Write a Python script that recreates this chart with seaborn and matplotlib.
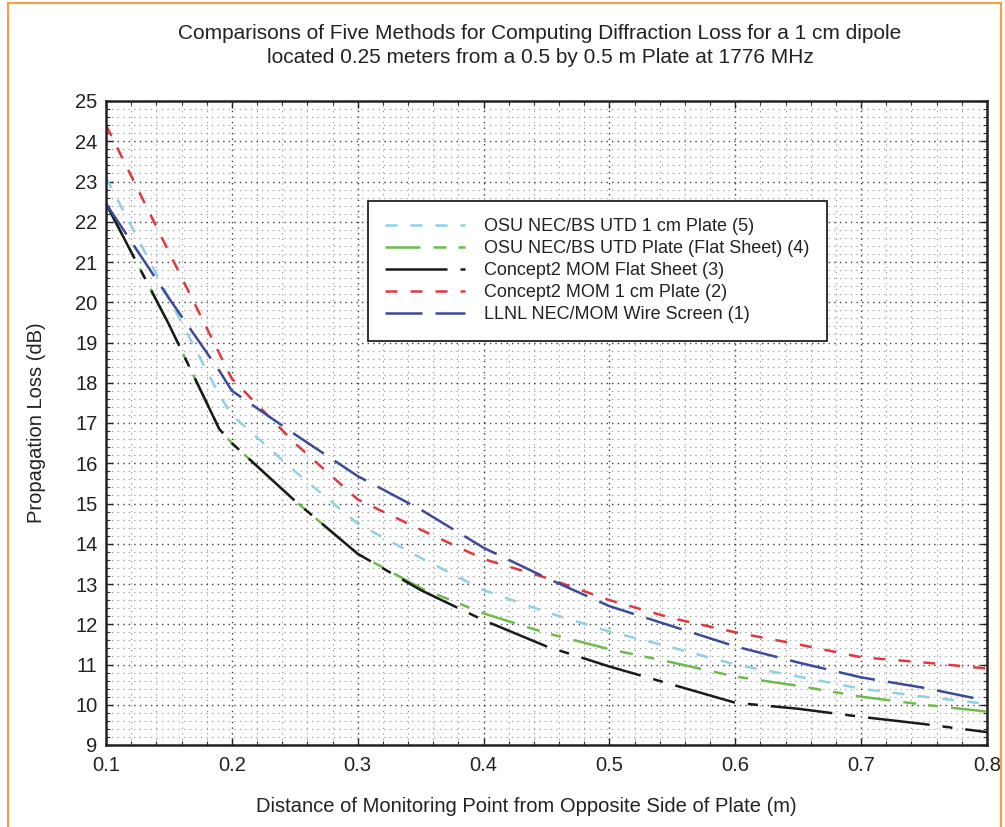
import numpy as np
import pandas as pd
import matplotlib
matplotlib.use("Agg")
import matplotlib.pyplot as plt
import seaborn as sns
from matplotlib.patches import Rectangle

# ---- data ----
x_m = [0.10, 0.15, 0.19, 0.20, 0.25, 0.30, 0.35, 0.40, 0.45, 0.50, 0.55, 0.60, 0.65, 0.70, 0.75, 0.80]
osu_1cm   = [23.1, 20.1, 17.7, 17.2, 15.8, 14.5, 13.65, 12.85, 12.3, 11.82, 11.42, 11.0, 10.7, 10.4, 10.2, 10.02]
osu_flat  = [22.45, 19.45, 16.85, 16.5, 15.07, 13.75, 12.9, 12.27, 11.78, 11.38, 11.05, 10.7, 10.47, 10.2, 10.0, 9.83]
c2_flat   = [22.45, 19.45, 16.85, 16.5, 15.07, 13.75, 12.85, 12.1, 11.45, 10.95, 10.5, 10.05, 9.9, 9.7, 9.52, 9.32]
c2_1cm    = [24.4, 21.25, 18.73, 18.1, 16.5, 15.1, 14.35, 13.62, 13.15, 12.6, 12.15, 11.8, 11.5, 11.18, 11.05, 10.9]
llnl_wire = [22.45, 20.1, 18.3, 17.8, 16.72, 15.68, 14.85, 13.9, 13.15, 12.45, 11.95, 11.45, 11.05, 10.68, 10.42, 10.1]

labels = ["OSU NEC/BS UTD 1 cm Plate (5)",
          "OSU NEC/BS UTD Plate (Flat Sheet) (4)",
          "Concept2 MOM Flat Sheet (3)",
          "Concept2 MOM 1 cm Plate (2)",
          "LLNL NEC/MOM Wire Screen (1)"]
series = [osu_1cm, osu_flat, c2_flat, c2_1cm, llnl_wire]
colors = ["#8fd0e6", "#6cbb4c", "#1a1a1a", "#e0383c", "#3c4a9c"]
dash_styles = [(4.8, 5.2), (14.0, 5.2, 5.2, 4.8, 4.0, 5.2), (24.8, 5.2, 4.0, 5.2),
               (4.8, 5.2), (14.8, 5.2)]

title = ("Comparisons of Five Methods for Computing Diffraction Loss for a 1 cm dipole\n"
         "located 0.25 meters from a 0.5 by 0.5 m Plate at 1776 MHz")
xlabel = "Distance of Monitoring Point from Opposite Side of Plate (m)"
ylabel = "Propagation Loss (dB)"

df = pd.DataFrame({
    "x": np.tile(x_m, len(labels)),
    "y": np.concatenate(series),
    "method": np.repeat(labels, len(x_m)),
})

sns.set_theme(style="white")
plt.rcParams['font.family'] = ['Liberation Sans', 'DejaVu Sans']

W, H = 1005, 827
fig = plt.figure(figsize=(W / 100, H / 100), dpi=100)
ax = fig.add_axes([106 / W, 1 - 745 / H, (987 - 106) / W, (745 - 101) / H])

sns.lineplot(data=df, x="x", y="y", hue="method", style="method",
             hue_order=labels, style_order=labels,
             palette=dict(zip(labels, colors)),
             dashes=dict(zip(labels, dash_styles)),
             linewidth=1.8, ax=ax, legend=True, sort=False)

ax.set_xlim(0.1, 0.8)
ax.set_ylim(9, 25)
ax.set_xticks(np.arange(0.1, 0.81, 0.1))
ax.set_xticklabels([f"{v:.1f}" for v in np.arange(0.1, 0.81, 0.1)])
ax.set_yticks(np.arange(9, 26, 1))
ax.set_xticks(np.arange(0.1, 0.8001, 0.02), minor=True)
ax.set_yticks(np.arange(9, 25.001, 0.2), minor=True)
ax.tick_params(axis="both", which="major", direction="in", length=5, width=1,
               labelsize=14.5, colors="#222222", top=True, right=True,
               bottom=True, left=True)
ax.tick_params(axis="x", which="major", pad=8)
ax.tick_params(axis="y", which="major", pad=6)
ax.tick_params(axis="both", which="minor", direction="in", length=3, width=0.8,
               top=True, right=True, bottom=True, left=True, colors="#333333")
ax.grid(True, which="major", color="#3a3a3a", linestyle=(0, (1, 3)), linewidth=1.0)
ax.grid(True, which="minor", color="#8a8a8a", linestyle=(0, (1, 4)), linewidth=0.8)
ax.set_axisbelow(True)
for s in ax.spines.values():
    s.set_color("#222222")
    s.set_linewidth(1.8)

ax.set_xlabel("")
ax.set_ylabel("")
fig.text(526 / W, 1 - 807 / H, xlabel, ha="center", va="center", fontsize=14.5, color="#222222")
fig.text(36 / W, 1 - 423 / H, ylabel, ha="center", va="center", rotation=90,
         fontsize=14.5, color="#222222")
fig.text(540 / W, 1 - 45.5 / H, title, ha="center", va="center", fontsize=15,
         color="#222222", linespacing=1.38)

handles, lbls = ax.get_legend_handles_labels()
leg = ax.legend(handles, lbls, loc="upper left",
                bbox_to_anchor=((368 - 106) / (987 - 106), (745 - 201) / (745 - 101)),
                frameon=True, fancybox=False, edgecolor="#222222", fontsize=13,
                handlelength=4.4, labelspacing=0.28, borderpad=0.95, handletextpad=1.1,
                borderaxespad=0, framealpha=1)
leg.get_frame().set_linewidth(1.3)
for t in leg.get_texts():
    t.set_color("#222222")

# orange frame of the figure
fig.patches.append(Rectangle((8 / W, -0.1), (1001 - 8) / W, 1.1 - 3 / H,
                             transform=fig.transFigure, fill=False,
                             edgecolor="#f5a04a", linewidth=1.6))

fig.savefig("out.png", dpi=100)
